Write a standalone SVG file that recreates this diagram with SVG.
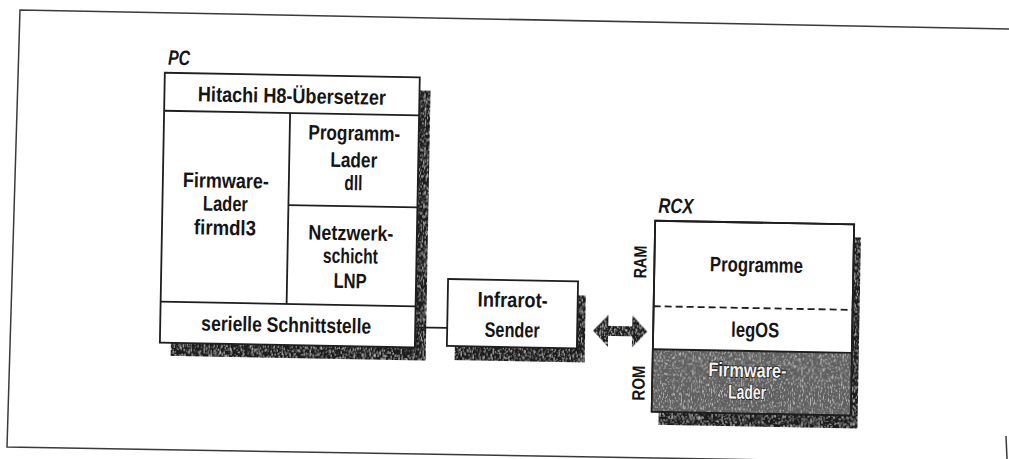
<svg xmlns="http://www.w3.org/2000/svg" width="1009" height="459" viewBox="0 0 1009 459">
  <defs>
    <filter id="grain" x="0" y="0" width="100%" height="100%">
      <feTurbulence type="fractalNoise" baseFrequency="0.9 0.3" numOctaves="2" seed="4" result="n"/>
      <feColorMatrix in="n" type="matrix" values="0 0 0 0 1  0 0 0 0 1  0 0 0 0 1  1.8 0 0 0 -0.95" result="spots"/>
      <feComposite in="spots" in2="SourceGraphic" operator="in" result="s2"/>
      <feMerge><feMergeNode in="SourceGraphic"/><feMergeNode in="s2"/></feMerge>
    </filter>
    <style>
      .t { font-family: "Liberation Sans", Arial, sans-serif; font-weight: bold; font-size: 21px; fill: #151515; text-anchor: middle; }
      .it { font-family: "Liberation Sans", Arial, sans-serif; font-weight: bold; font-style: italic; font-size: 21px; fill: #151515; }
      .side { font-family: "Liberation Sans", Arial, sans-serif; font-weight: bold; font-size: 18px; fill: #151515; text-anchor: middle; }
      .rom { font-family: "Liberation Sans", Arial, sans-serif; font-weight: bold; font-size: 20px; fill: #f2f2f2; stroke: #151515; stroke-width: 1.6; paint-order: stroke; text-anchor: middle; }
      .box { fill: #ffffff; stroke: #1e1e1e; stroke-width: 1.8; }
      .ln { stroke: #1e1e1e; stroke-width: 1.8; fill: none; }
      .shadow { fill: #1a1a1a; filter: url(#grain); }
      .frame { stroke: #3a3a3a; stroke-width: 1.5; fill: none; }
    </style>
  </defs>
  <rect width="1009" height="459" fill="#ffffff"/>
  <g id="frame">
    <polyline class="frame" points="1009,29 20,10 7,447 1009,464"/>
    <line class="frame" x1="1006" y1="436" x2="1007" y2="459"/>
  </g>
  <g transform="rotate(1.05 505 230)">
    <g id="pc">
      <rect class="shadow" x="173" y="92" width="255" height="270"/>
      <rect class="box" x="162" y="79" width="255" height="270"/>
      <line class="ln" x1="162" y1="117" x2="417" y2="117"/>
      <line class="ln" x1="288" y1="117" x2="288" y2="308"/>
      <line class="ln" x1="288" y1="209" x2="417" y2="209"/>
      <line class="ln" x1="162" y1="308" x2="417" y2="308"/>
      <text class="it" x="165" y="71" textLength="22" lengthAdjust="spacingAndGlyphs">PC</text>
      <text class="t" x="289.5" y="107" textLength="188" lengthAdjust="spacingAndGlyphs">Hitachi H8-Übersetzer</text>
      <text class="t" x="225" y="193" textLength="86" lengthAdjust="spacingAndGlyphs">Firmware-</text>
      <text class="t" x="225" y="216" textLength="45" lengthAdjust="spacingAndGlyphs">Lader</text>
      <text class="t" x="225" y="240" textLength="62" lengthAdjust="spacingAndGlyphs">firmdl3</text>
      <text class="t" x="352.5" y="143" textLength="92" lengthAdjust="spacingAndGlyphs">Programm-</text>
      <text class="t" x="352.5" y="170" textLength="47" lengthAdjust="spacingAndGlyphs">Lader</text>
      <text class="t" x="352.5" y="193" textLength="18" lengthAdjust="spacingAndGlyphs">dll</text>
      <text class="t" x="351" y="243" textLength="85" lengthAdjust="spacingAndGlyphs">Netzwerk-</text>
      <text class="t" x="351" y="266" textLength="55" lengthAdjust="spacingAndGlyphs">schicht</text>
      <text class="t" x="351" y="291" textLength="33" lengthAdjust="spacingAndGlyphs">LNP</text>
      <text class="t" x="288" y="336" textLength="170" lengthAdjust="spacingAndGlyphs">serielle Schnittstelle</text>
    </g>
    <g id="infrarot">
      <rect class="shadow" x="457" y="294" width="130" height="67"/>
      <rect class="box" x="449" y="280" width="130" height="67"/>
      <text class="t" x="514" y="307" textLength="70" lengthAdjust="spacingAndGlyphs">Infrarot-</text>
      <text class="t" x="514" y="337" textLength="55" lengthAdjust="spacingAndGlyphs">Sender</text>
    </g>
    <g id="rcx">
      <rect class="shadow" x="662" y="231" width="199" height="191"/>
      <rect class="box" x="655" y="218" width="199" height="191"/>
      <rect x="655" y="346.5" width="199" height="62.5" fill="#606060" style="filter:url(#grain)"/>
      <rect class="ln" x="655" y="218" width="199" height="191"/>
      <line class="ln" x1="655" y1="346.5" x2="854" y2="346.5"/>
      <line class="ln" x1="655" y1="303.5" x2="854" y2="303.5" stroke-dasharray="7 4"/>
      <text class="it" x="658" y="210" textLength="35" lengthAdjust="spacingAndGlyphs">RCX</text>
      <text class="side" transform="translate(647,259.5) rotate(-90)" x="0" y="0" textLength="33" lengthAdjust="spacingAndGlyphs">RAM</text>
      <text class="side" transform="translate(647.5,380.6) rotate(-90)" x="0" y="0" textLength="35" lengthAdjust="spacingAndGlyphs">ROM</text>
      <text class="t" x="757" y="267.5" textLength="93" lengthAdjust="spacingAndGlyphs">Programme</text>
      <text class="t" x="757" y="332.5" textLength="48" lengthAdjust="spacingAndGlyphs">legOS</text>
      <text class="rom" x="750" y="372.5" textLength="78" lengthAdjust="spacingAndGlyphs">Firmware-</text>
      <text class="rom" x="750" y="394.5" textLength="38" lengthAdjust="spacingAndGlyphs">Lader</text>
    </g>
    <g id="connectors">
      <line class="ln" x1="417" y1="329" x2="449" y2="329"/>
      <polygon class="shadow" points="595,329 610,313 610,324 634,324 634,313 649,329 634,345 634,334 610,334 610,345"/>
    </g>
  </g>
</svg>
